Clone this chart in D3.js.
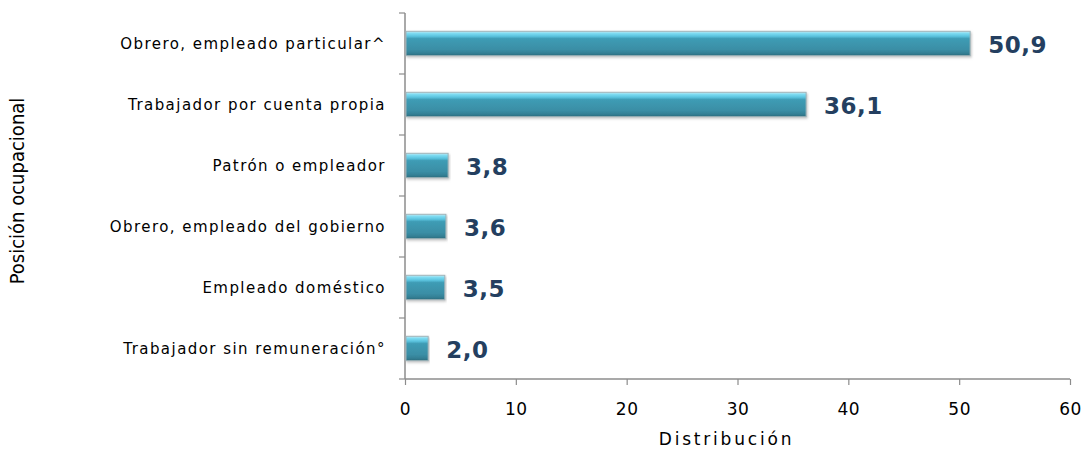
<!DOCTYPE html>
<html>
<head>
<meta charset="utf-8">
<script src="https://cdn.jsdelivr.net/npm/d3@7"></script>
<style>
  html, body { margin: 0; padding: 0; background: #fff; }
  svg { display: block; }
</style>
</head>
<body>
<svg id="chart" width="1085" height="452"></svg>
<script>
// Distribución de la población ocupada por posición ocupacional (%)
const categories = [
  "Obrero, empleado particular^",
  "Trabajador por cuenta propia",
  "Patrón o empleador",
  "Obrero, empleado del gobierno",
  "Empleado doméstico",
  "Trabajador sin remuneración°"
];
const values = [50.9, 36.1, 3.8, 3.6, 3.5, 2.0];
const xTicks = [0, 10, 20, 30, 40, 50, 60];

const svg = d3.select("#chart");
const margin = { left: 405, right: 15, top: 13, bottom: 73 };
const W = 1085, H = 452;

const x = d3.scaleLinear().domain([0, 60]).range([margin.left, W - margin.right]);
const y = d3.scaleBand().domain(categories).range([margin.top, H - margin.bottom]).paddingInner(0.6).paddingOuter(0.3);

// bevelled bar fill
const defs = svg.append("defs");
const grad = defs.append("linearGradient").attr("id", "barFill").attr("x1", 0).attr("y1", 0).attr("x2", 0).attr("y2", 1);
[["0%", "#c9e9f1"], ["8%", "#7fdcf2"], ["20%", "#5cc4df"], ["30%", "#3f9cb5"], ["75%", "#3a8ea5"], ["90%", "#347f94"], ["100%", "#2b6a7c"]]
  .forEach(([o, c]) => grad.append("stop").attr("offset", o).attr("stop-color", c));
const filt = defs.append("filter").attr("id", "shadow").attr("x", "-5%").attr("y", "-20%").attr("width", "110%").attr("height", "150%");
filt.append("feDropShadow").attr("dx", 1).attr("dy", 1.5).attr("stdDeviation", 1).attr("flood-color", "#888").attr("flood-opacity", 0.5);

const axisColor = "#8c8c8c";
const band = (H - margin.bottom - margin.top) / categories.length;

// y axis line and tick marks between categories
svg.append("line").attr("x1", x(0)).attr("x2", x(0)).attr("y1", margin.top).attr("y2", H - margin.bottom)
  .attr("stroke", axisColor).attr("stroke-width", 1.5);
d3.range(categories.length + 1).forEach(i => {
  const yy = margin.top + i * band;
  svg.append("line").attr("x1", x(0) - 6).attr("x2", x(0)).attr("y1", yy).attr("y2", yy)
    .attr("stroke", axisColor).attr("stroke-width", 1.2);
});

// x axis
const xAxis = d3.axisBottom(x).tickValues(xTicks).tickSize(6).tickPadding(18).tickFormat(d3.format("d"));
const gx = svg.append("g").attr("transform", `translate(0,${H - margin.bottom})`).call(xAxis);
gx.select(".domain").attr("stroke", axisColor).attr("stroke-width", 1.5).attr("d", `M${x(0)},0H${x(60)}`);
gx.selectAll(".tick line").attr("stroke", axisColor).attr("stroke-width", 1.2);
gx.selectAll(".tick text").attr("fill", "#000").style("font-family", "DejaVu Sans, Verdana, sans-serif").style("font-size", "17px").style("letter-spacing", "0.5px");

// bars
const bars = svg.append("g").selectAll("g").data(categories).join("g");
bars.append("rect")
  .attr("x", x(0) + 1)
  .attr("y", d => y(d))
  .attr("width", (d, i) => x(values[i]) - x(0))
  .attr("height", y.bandwidth())
  .attr("fill", "url(#barFill)")
  .attr("stroke", "#9fb4ba")
  .attr("stroke-width", 1)
  .attr("filter", "url(#shadow)");

// value labels
svg.append("g").selectAll("text").data(categories).join("text")
  .attr("x", (d, i) => x(values[i]) + 19)
  .attr("y", d => y(d) + y.bandwidth() / 2 + 9)
  .attr("fill", "#243f60")
  .style("font-family", "DejaVu Sans, Verdana, sans-serif")
  .style("font-weight", "bold")
  .style("font-size", "23px")
  .style("letter-spacing", "0.5px")
  .text((d, i) => d3.format(".1f")(values[i]).replace(".", ","));

// category labels
svg.append("g").selectAll("text").data(categories).join("text")
  .attr("x", x(0) - 19)
  .attr("y", d => y(d) + y.bandwidth() / 2 + 5)
  .attr("text-anchor", "end")
  .attr("fill", "#000")
  .style("font-family", "DejaVu Sans, Verdana, sans-serif")
  .style("font-size", "15px")
  .style("letter-spacing", "1.45px")
  .text(d => d);

// axis titles
svg.append("text")
  .attr("x", x(30) - 11).attr("y", 445)
  .attr("text-anchor", "middle")
  .style("font-family", "DejaVu Sans, Verdana, sans-serif")
  .style("font-size", "17px")
  .style("letter-spacing", "2.8px")
  .text("Distribución");

svg.append("text")
  .attr("transform", `translate(24,191) rotate(-90)`)
  .attr("text-anchor", "middle")
  .style("font-family", "Liberation Sans Narrow, DejaVu Sans Condensed, sans-serif")
  .style("font-size", "20px")
  .text("Posición ocupacional");
</script>
</body>
</html>
